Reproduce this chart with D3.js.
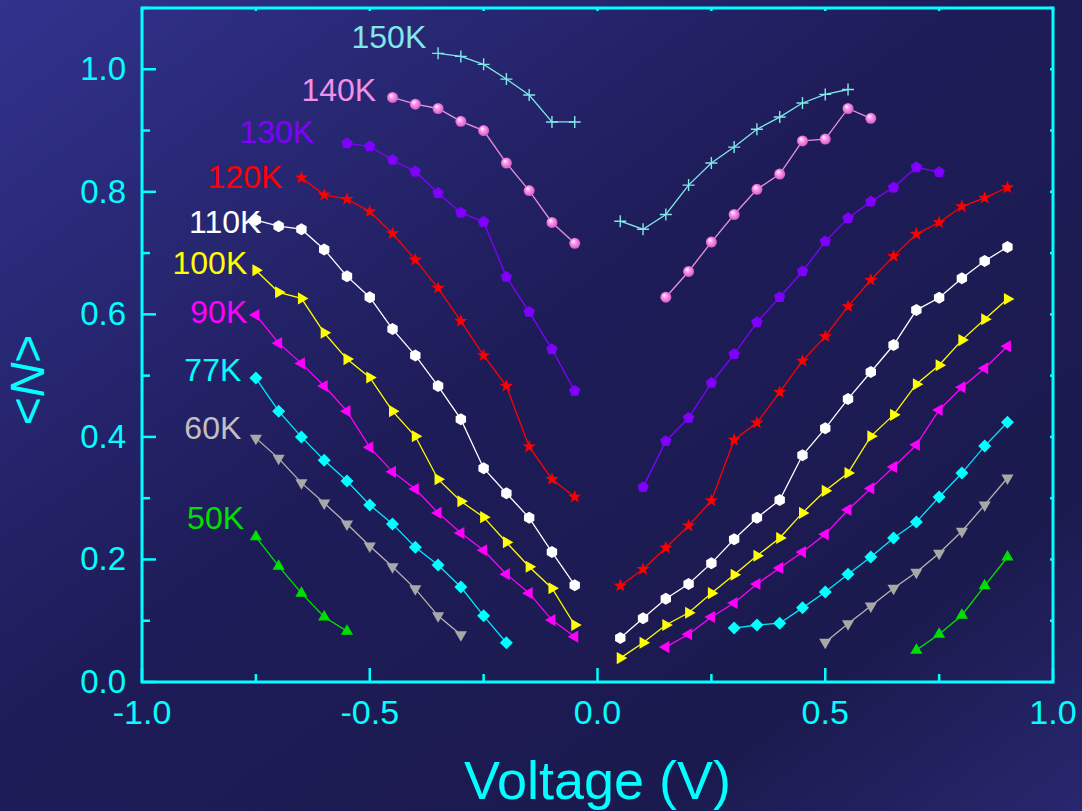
<!DOCTYPE html>
<html lang="en">
<head>
<meta charset="UTF-8">
<title>Voltage vs N</title>
<script src="https://cdnjs.cloudflare.com/ajax/libs/d3/7.8.5/d3.min.js"></script>
<style>
  body { margin: 0; background: #1c1b52; }
  svg { display: block; font-family: "Liberation Sans", Arial, sans-serif; }
</style>
</head>
<body>
<svg id="chart" width="1082" height="811"></svg>
<script>
// ---- data: [voltage, <N>], left and right branches ----
const k150Left  = [[-0.35,1.026],[-0.30,1.021],[-0.25,1.008],[-0.20,0.984],[-0.15,0.958],[-0.10,0.914],[-0.05,0.914]];
const k150Right = [[0.05,0.752],[0.10,0.739],[0.15,0.763],[0.20,0.811],[0.25,0.847],[0.30,0.873],[0.35,0.902],[0.40,0.922],[0.45,0.945],[0.50,0.959],[0.55,0.967]];
const k140Left  = [[-0.45,0.954],[-0.40,0.943],[-0.35,0.936],[-0.30,0.915],[-0.25,0.900],[-0.20,0.847],[-0.15,0.802],[-0.10,0.750],[-0.05,0.716]];
const k140Right = [[0.15,0.628],[0.20,0.670],[0.25,0.718],[0.30,0.763],[0.35,0.804],[0.40,0.829],[0.45,0.883],[0.50,0.886],[0.55,0.936],[0.60,0.920]];
const k130Left  = [[-0.55,0.879],[-0.50,0.874],[-0.45,0.852],[-0.40,0.833],[-0.35,0.798],[-0.30,0.766],[-0.25,0.751],[-0.20,0.661],[-0.15,0.604],[-0.10,0.543],[-0.05,0.475]];
const k130Right = [[0.10,0.318],[0.15,0.393],[0.20,0.431],[0.25,0.488],[0.30,0.535],[0.35,0.587],[0.40,0.628],[0.45,0.670],[0.50,0.719],[0.55,0.757],[0.60,0.784],[0.65,0.807],[0.70,0.840],[0.75,0.832]];
const k120Left  = [[-0.65,0.823],[-0.60,0.795],[-0.55,0.788],[-0.50,0.768],[-0.45,0.732],[-0.40,0.689],[-0.35,0.643],[-0.30,0.589],[-0.25,0.533],[-0.20,0.483],[-0.15,0.384],[-0.10,0.331],[-0.05,0.302]];
const k120Right = [[0.05,0.157],[0.10,0.184],[0.15,0.219],[0.20,0.255],[0.25,0.296],[0.30,0.395],[0.35,0.423],[0.40,0.473],[0.45,0.524],[0.50,0.564],[0.55,0.613],[0.60,0.656],[0.65,0.695],[0.70,0.731],[0.75,0.750],[0.80,0.776],[0.85,0.790],[0.90,0.807]];
const k110Left  = [[-0.75,0.754],[-0.70,0.744],[-0.65,0.739],[-0.60,0.706],[-0.55,0.662],[-0.50,0.628],[-0.45,0.576],[-0.40,0.533],[-0.35,0.483],[-0.30,0.429],[-0.25,0.349],[-0.20,0.308],[-0.15,0.268],[-0.10,0.212],[-0.05,0.158]];
const k110Right = [[0.05,0.072],[0.10,0.104],[0.15,0.136],[0.20,0.160],[0.25,0.194],[0.30,0.233],[0.35,0.268],[0.40,0.297],[0.45,0.370],[0.50,0.414],[0.55,0.462],[0.60,0.506],[0.65,0.550],[0.70,0.607],[0.75,0.627],[0.80,0.659],[0.85,0.687],[0.90,0.710]];
const k100Left  = [[-0.75,0.672],[-0.70,0.636],[-0.65,0.626],[-0.60,0.570],[-0.55,0.527],[-0.50,0.497],[-0.45,0.442],[-0.40,0.401],[-0.35,0.331],[-0.30,0.295],[-0.25,0.269],[-0.20,0.228],[-0.15,0.188],[-0.10,0.153],[-0.05,0.093]];
const k100Right = [[0.05,0.039],[0.10,0.064],[0.15,0.093],[0.20,0.113],[0.25,0.145],[0.30,0.175],[0.35,0.206],[0.40,0.235],[0.45,0.276],[0.50,0.312],[0.55,0.341],[0.60,0.401],[0.65,0.436],[0.70,0.486],[0.75,0.517],[0.80,0.558],[0.85,0.592],[0.90,0.625]];
const k90Left   = [[-0.75,0.599],[-0.70,0.553],[-0.65,0.520],[-0.60,0.483],[-0.55,0.442],[-0.50,0.383],[-0.45,0.343],[-0.40,0.315],[-0.35,0.276],[-0.30,0.243],[-0.25,0.215],[-0.20,0.176],[-0.15,0.145],[-0.10,0.101],[-0.05,0.074]];
const k90Right  = [[0.15,0.057],[0.20,0.078],[0.25,0.106],[0.30,0.129],[0.35,0.160],[0.40,0.186],[0.45,0.212],[0.50,0.241],[0.55,0.281],[0.60,0.316],[0.65,0.351],[0.70,0.387],[0.75,0.444],[0.80,0.481],[0.85,0.512],[0.90,0.548]];
const k77Left   = [[-0.75,0.496],[-0.70,0.442],[-0.65,0.400],[-0.60,0.362],[-0.55,0.328],[-0.50,0.289],[-0.45,0.258],[-0.40,0.220],[-0.35,0.191],[-0.30,0.155],[-0.25,0.108],[-0.20,0.064]];
const k77Right  = [[0.30,0.088],[0.35,0.093],[0.40,0.096],[0.45,0.121],[0.50,0.147],[0.55,0.176],[0.60,0.204],[0.65,0.235],[0.70,0.261],[0.75,0.302],[0.80,0.341],[0.85,0.385],[0.90,0.424]];
const k60Left   = [[-0.75,0.398],[-0.70,0.365],[-0.65,0.325],[-0.60,0.292],[-0.55,0.258],[-0.50,0.222],[-0.45,0.188],[-0.40,0.152],[-0.35,0.108],[-0.30,0.077]];
const k60Right  = [[0.50,0.065],[0.55,0.095],[0.60,0.124],[0.65,0.153],[0.70,0.179],[0.75,0.210],[0.80,0.246],[0.85,0.289],[0.90,0.333]];
const k50Left   = [[-0.75,0.237],[-0.70,0.189],[-0.65,0.145],[-0.60,0.106],[-0.55,0.083]];
const k50Right  = [[0.70,0.052],[0.75,0.078],[0.80,0.109],[0.85,0.157],[0.90,0.204]];

const temps     = ["150K","140K","130K","120K","110K","100K","90K","77K","60K","50K"];
const branches  = [[k150Left,k150Right],[k140Left,k140Right],[k130Left,k130Right],[k120Left,k120Right],[k110Left,k110Right],
                   [k100Left,k100Right],[k90Left,k90Right],[k77Left,k77Right],[k60Left,k60Right],[k50Left,k50Right]];
// where each temperature label sits (right end, baseline) in data units
const labelAt   = [[-0.376,1.034],[-0.486,0.949],[-0.622,0.879],[-0.692,0.806],[-0.738,0.732],
                   [-0.769,0.666],[-0.769,0.586],[-0.782,0.491],[-0.782,0.396],[-0.776,0.250]];
const xTicks    = [-1.0,-0.5,0.0,0.5,1.0];
const yTicks    = [0.0,0.2,0.4,0.6,0.8,1.0];

// ---- styles ----
const lineColors  = ["#80e8e8","#e890e0","#8000ff","#ff0000","#ffffff","#ffff00","#ff00ff","#00e8ff","#b4b4b4","#00e000"];
const labelColors = ["#80e8e8","#f090e8","#8000ff","#ff0000","#ffffff","#ffff00","#ff00ff","#00ffff","#c0c0c0","#00e000"];
const markers     = ["plus","sphere","pentagon","star","hexagon","triRight","triLeft","diamond","triDown","triUp"];
const markerFill  = ["none","url(#sphere)","#8000ff","#ff0000","#ffffff","#ffff00","#ff00ff","#00ffff","#a8a8a8","#00e000"];

const W = 1082, H = 811;
const svg = d3.select("#chart");
const axisColor = "#00ffff";

const x = d3.scaleLinear().domain([-1, 1]).range([142, 1053]);
const y = d3.scaleLinear().domain([0, 1.1]).range([682, 8]);

// background
const defs = svg.append("defs");
const bg = defs.append("linearGradient").attr("id", "bg")
    .attr("x1", 0).attr("y1", 0).attr("x2", 1).attr("y2", 1);
bg.append("stop").attr("offset", 0).attr("stop-color", "#32328e");
bg.append("stop").attr("offset", 0.45).attr("stop-color", "#1e1c58");
bg.append("stop").attr("offset", 0.8).attr("stop-color", "#1b1a4e");
bg.append("stop").attr("offset", 1).attr("stop-color", "#28276e");

const sph = defs.append("radialGradient").attr("id", "sphere")
    .attr("cx", 0.5).attr("cy", 0.5).attr("r", 0.55).attr("fx", 0.35).attr("fy", 0.3);
sph.append("stop").attr("offset", 0).attr("stop-color", "#ffffff");
sph.append("stop").attr("offset", 0.35).attr("stop-color", "#ffa0f0");
sph.append("stop").attr("offset", 1).attr("stop-color", "#d050c0");

svg.append("rect").attr("width", W).attr("height", H).attr("fill", "url(#bg)");

// ---- axes ----
const xMinor = d3.range(-1, 1.001, 0.25);
const yMinor = d3.range(0, 1.101, 0.1);
const axes = svg.append("g").attr("stroke", axisColor).attr("stroke-width", 2.5);

// inward ticks on left and bottom, tiny ones on top and right
axes.selectAll(".xt").data(xMinor).join("line")
    .attr("x1", d => x(d)).attr("x2", d => x(d))
    .attr("y1", y(0)).attr("y2", d => y(0) - (Math.abs(d * 2 - Math.round(d * 2)) < 1e-6 ? 14 : 8));
axes.selectAll(".xtt").data(xMinor).join("line")
    .attr("x1", d => x(d)).attr("x2", d => x(d))
    .attr("y1", y(1.1)).attr("y2", y(1.1) + 3);
axes.selectAll(".yt").data(yMinor).join("line")
    .attr("y1", d => y(d)).attr("y2", d => y(d))
    .attr("x1", x(-1)).attr("x2", d => x(-1) + (Math.round(d * 10) % 2 === 0 ? 14 : 8));
axes.selectAll(".ytr").data(yMinor).join("line")
    .attr("y1", d => y(d)).attr("y2", d => y(d))
    .attr("x1", x(1)).attr("x2", x(1) - 3);

svg.append("rect")
    .attr("x", x(-1)).attr("y", y(1.1))
    .attr("width", x(1) - x(-1)).attr("height", y(0) - y(1.1))
    .attr("fill", "none").attr("stroke", axisColor).attr("stroke-width", 3);

svg.append("g").selectAll("text").data(xTicks).join("text")
    .attr("x", d => x(d)).attr("y", 724)
    .attr("text-anchor", "middle")
    .attr("font-size", 34).attr("fill", axisColor)
    .text(d => d3.format(".1f")(d).replace("−", "-"));

svg.append("g").selectAll("text").data(yTicks).join("text")
    .attr("x", 126).attr("y", d => y(d)).attr("dy", "0.33em")
    .attr("text-anchor", "end")
    .attr("font-size", 33).attr("fill", axisColor)
    .text(d => d3.format(".1f")(d));

svg.append("text")
    .attr("x", (x(-1) + x(1)) / 2).attr("y", 799)
    .attr("text-anchor", "middle")
    .attr("font-size", 54).attr("fill", axisColor)
    .text("Voltage (V)");

const yl = svg.append("text")
    .attr("transform", "translate(44,380) rotate(-90)")
    .attr("text-anchor", "middle")
    .attr("font-size", 48).attr("fill", axisColor);
yl.append("tspan").text("<");
yl.append("tspan").attr("font-style", "italic").text("N");
yl.append("tspan").text(">");

// ---- markers ----
function polygon(n, r, rot) {
  const pts = d3.range(n).map(i => {
    const a = rot + i * 2 * Math.PI / n;
    return [r * Math.cos(a), r * Math.sin(a)];
  });
  return "M" + pts.map(p => p.join(",")).join("L") + "Z";
}
function starPath(r) {
  const pts = d3.range(10).map(i => {
    const rr = i % 2 ? r * 0.4 : r;
    const a = -Math.PI / 2 + i * Math.PI / 5;
    return [rr * Math.cos(a), rr * Math.sin(a)];
  });
  return "M" + pts.map(p => p.join(",")).join("L") + "Z";
}
function markerPath(kind) {
  switch (kind) {
    case "plus":     return "M-6,0L6,0M0,-6L0,6";
    case "pentagon": return polygon(5, 6, -Math.PI / 2);
    case "hexagon":  return polygon(6, 6, -Math.PI / 2);
    case "star":     return starPath(7);
    case "diamond":  return polygon(4, 6.5, 0);
    case "triUp":    return polygon(3, 7, -Math.PI / 2);
    case "triDown":  return polygon(3, 7, Math.PI / 2);
    case "triRight": return polygon(3, 7, 0);
    case "triLeft":  return polygon(3, 7, Math.PI);
  }
  return null;
}

const line = d3.line().x(d => x(d[0])).y(d => y(d[1]));

temps.forEach((t, i) => {
  const g = svg.append("g");
  branches[i].forEach(pts => {
    g.append("path").datum(pts)
      .attr("d", line)
      .attr("fill", "none")
      .attr("stroke", lineColors[i])
      .attr("stroke-width", 1.3);
  });
  const all = branches[i][0].concat(branches[i][1]);
  if (markers[i] === "sphere") {
    g.selectAll("circle").data(all).join("circle")
      .attr("cx", d => x(d[0])).attr("cy", d => y(d[1]))
      .attr("r", 5.5).attr("fill", "url(#sphere)");
  } else {
    g.selectAll(".m").data(all).join("path")
      .attr("transform", d => `translate(${x(d[0])},${y(d[1])})`)
      .attr("d", markerPath(markers[i]))
      .attr("fill", markerFill[i])
      .attr("stroke", markers[i] === "plus" ? lineColors[i] : "none")
      .attr("stroke-width", 1.4);
  }
  svg.append("text")
    .attr("x", x(labelAt[i][0])).attr("y", y(labelAt[i][1]))
    .attr("text-anchor", "end")
    .attr("font-size", 32)
    .attr("fill", labelColors[i])
    .text(t);
});
</script>
</body>
</html>
